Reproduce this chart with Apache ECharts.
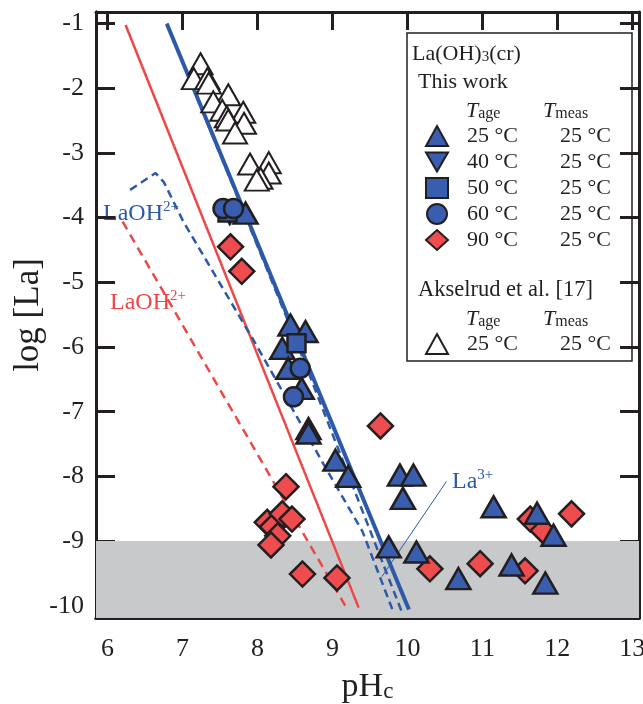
<!DOCTYPE html>
<html>
<head>
<meta charset="utf-8">
<script src="https://cdn.jsdelivr.net/npm/echarts@6/dist/echarts.min.js"></script>
<style>
  html, body { margin: 0; padding: 0; background: #fff; }
  #chart { width: 643px; height: 704px; }
</style>
</head>
<body>
<div id="chart"></div>
<script>
// tick labels
const xTicks = [6, 7, 8, 9, 10, 11, 12, 13];
const yTicks = [-10, -9, -8, -7, -6, -5, -4, -3, -2, -1];

// this work, [pH_c, log[La]]
const age25 = [
  [7.84, -3.93], [8.44, -5.66], [8.64, -5.76], [8.33, -6.02], [8.41, -6.33],
  [8.59, -6.64], [8.68, -7.26], [8.68, -7.33], [9.04, -7.75], [9.21, -8.0],
  [9.90, -7.98], [10.08, -7.98], [9.94, -8.34], [11.15, -8.47], [9.75, -9.09],
  [10.12, -9.17], [10.68, -9.58], [11.39, -9.37], [11.73, -8.57], [11.95, -8.91],
  [11.84, -9.65]
];
const age40 = [[7.63, -3.95]];
const age50 = [[7.60, -3.92], [8.52, -5.94]];
const age60 = [[7.54, -3.86], [7.68, -3.86], [8.57, -6.33], [8.48, -6.77]];
const age90 = [
  [7.64, -4.45], [7.79, -4.83], [8.38, -8.16], [8.13, -8.71], [8.20, -8.78],
  [8.33, -8.58], [8.46, -8.66], [8.27, -8.92], [8.18, -9.06], [8.60, -9.51],
  [9.06, -9.57], [9.64, -7.22], [10.30, -9.43], [10.97, -9.35], [11.57, -9.46],
  [11.64, -8.66], [11.81, -8.84], [12.19, -8.58]
];
// Akselrud et al. [17]
const akselrud = [
  [7.24, -1.62], [7.15, -1.85], [7.33, -1.85], [7.35, -1.92], [7.61, -2.10],
  [7.41, -2.21], [7.53, -2.34], [7.81, -2.37], [7.59, -2.44], [7.61, -2.49],
  [7.82, -2.54], [7.70, -2.69], [7.90, -3.17], [8.15, -3.15], [8.15, -3.31],
  [8.04, -3.39], [7.99, -3.42]
];

// model curves
const blueTotal = [[6.79, -1.0], [10.02, -10.06]];
const blueLa3 = [[6.79, -1.0], [8.50, -5.86], [9.92, -10.08]];
const blueLaOH = [[6.30, -3.57], [6.64, -3.31], [6.75, -3.45], [7.01, -4.06],
  [7.97, -5.94], [8.90, -7.85], [9.40, -8.85], [9.80, -10.06]];
const redTotal = [[6.24, -1.02], [9.35, -10.03]];
const redLaOH = [[6.20, -4.06], [9.19, -10.04]];
const la3Leader = [[10.52, -8.08], [9.66, -9.55]];

const legendRows = {
  '25/25': ['25 °C', '25 °C'],
  '40/25': ['40 °C', '25 °C'],
  '50/25': ['50 °C', '25 °C'],
  '60/25': ['60 °C', '25 °C'],
  '90/25': ['90 °C', '25 °C'],
  'Akselrud 25/25': ['25 °C', '25 °C']
};

const FONT = 'Liberation Serif';
const INK = '#231f20';
const BLUE = '#2d5aa8';
const BLUE_FILL = '#3a5eaf';
const RED = '#ef4648';
const RED_FILL = '#ef4c50';
const X_MIN = 5.845, X_MAX = 13.09, Y_MIN = -10.19, Y_MAX = -0.82;

const chart = echarts.init(document.getElementById('chart'));

const markerStyle = (fill) => ({ color: fill, borderColor: INK, borderWidth: 2.5, opacity: 1 });

function curve(name, data, color, width, dash, z) {
  return {
    name: name, type: 'line', data: data, symbol: 'none', silent: true, z: z || 2,
    lineStyle: { color: color, width: width, type: dash || 'solid' }
  };
}

const rowRich = {
  gap: { width: 14 },
  a: { width: 92, fontSize: 22, fontFamily: FONT, color: INK },
  b: { width: 52, align: 'right', fontSize: 22, fontFamily: FONT, color: INK }
};
const rowFormatter = (name) => {
  const r = legendRows[name];
  return '{gap|}{a|' + r[0] + '}{b|' + r[1] + '}';
};

function tLabel(x, y, sub) {
  return {
    type: 'text', left: x, top: y,
    style: {
      text: '{t|T}{s|' + sub + '}',
      rich: {
        t: { fontSize: 22, fontStyle: 'italic', fontFamily: FONT, fill: INK, lineHeight: 24, verticalAlign: 'bottom' },
        s: { fontSize: 16, fontFamily: FONT, fill: INK, lineHeight: 24, verticalAlign: 'bottom', padding: [9, 0, 0, 0] }
      }
    }
  };
}

function ionLabel(x, y, base, sup, color) {
  return {
    type: 'text', left: x, top: y,
    style: {
      text: '{m|' + base + '}{s|' + sup + '}',
      rich: {
        m: { fontSize: 24, fontFamily: FONT, fill: color, lineHeight: 26, verticalAlign: 'bottom' },
        s: { fontSize: 15, fontFamily: FONT, fill: color, lineHeight: 26, verticalAlign: 'top' }
      }
    }
  };
}

// an axis that only draws inside ticks (for the four frame sides)
function tickAxis(isX, position, ticks, len) {
  return {
    type: 'value', position: position,
    min: isX ? X_MIN : Y_MIN, max: isX ? X_MAX : Y_MAX,
    axisLine: { show: true, onZero: false, lineStyle: { color: INK, width: 3 } },
    splitLine: { show: false },
    axisTick: { show: true, inside: true, length: len, customValues: ticks, lineStyle: { color: INK, width: 3 } },
    axisLabel: { show: false }
  };
}

const option = {
  backgroundColor: '#fff',
  animation: false,
  grid: { left: 96, right: 4, top: 12, bottom: 86, containLabel: false, outerBoundsMode: 'none' },
  xAxis: [
    {
      type: 'value', min: X_MIN, max: X_MAX, position: 'bottom',
      axisLine: { show: true, onZero: false, lineStyle: { color: INK, width: 3 } },
      splitLine: { show: false },
      axisTick: { show: false },
      name: '{a|pH}{b|c}', nameLocation: 'middle', nameGap: 46,
      nameTextStyle: {
        rich: {
          a: { fontSize: 34, fontFamily: FONT, color: INK, lineHeight: 36, verticalAlign: 'bottom' },
          b: { fontSize: 23, fontFamily: FONT, color: INK, lineHeight: 36, verticalAlign: 'bottom', padding: [14, 0, 0, 0] }
        }
      },
      axisLabel: { show: true, customValues: xTicks, margin: 18, fontSize: 26, fontFamily: FONT, color: INK }
    },
    tickAxis(true, 'top', xTicks, 18),
    tickAxis(true, 'bottom', xTicks, 14)
  ],
  yAxis: [
    {
      type: 'value', min: Y_MIN, max: Y_MAX, position: 'left',
      axisLine: { show: true, onZero: false, lineStyle: { color: INK, width: 3 } },
      splitLine: { show: false },
      axisTick: { show: false },
      name: 'log [La]', nameLocation: 'middle', nameGap: 50, nameMoveOverlap: false,
      nameTextStyle: { fontSize: 35, fontFamily: FONT, color: INK },
      axisLabel: { show: true, customValues: yTicks, margin: 12, fontSize: 26, fontFamily: FONT, color: INK }
    },
    tickAxis(false, 'right', yTicks, 19),
    tickAxis(false, 'left', yTicks, 19)
  ],
  legend: [
    {
      data: [
        { name: '25/25' },
        { name: '40/25', icon: 'path://M0,0L22,0L11,19Z' },
        { name: '50/25' },
        { name: '60/25' },
        { name: '90/25' }
      ],
      orient: 'vertical', left: 425, top: 125, itemGap: 4,
      itemWidth: 22, itemHeight: 20, padding: 0,
      selectedMode: false, formatter: rowFormatter,
      textStyle: { rich: rowRich, lineHeight: 21 }
    },
    {
      data: ['Akselrud 25/25'],
      orient: 'vertical', left: 425, top: 333, itemGap: 4,
      itemWidth: 22, itemHeight: 20, padding: 0,
      selectedMode: false, formatter: rowFormatter,
      textStyle: { rich: rowRich, lineHeight: 21 }
    }
  ],
  graphic: [
    { type: 'rect', shape: { x: 407, y: 33, width: 225, height: 328 }, style: { fill: 'none', stroke: INK, lineWidth: 1.5 }, z: 10 },
    {
      type: 'text', left: 412, top: 40,
      style: {
        text: '{m|La(OH)}{s|3}{m|(cr)}',
        rich: {
          m: { fontSize: 22, fontFamily: FONT, fill: INK, lineHeight: 26, verticalAlign: 'bottom' },
          s: { fontSize: 15, fontFamily: FONT, fill: INK, lineHeight: 26, verticalAlign: 'bottom', padding: [10, 0, 0, 0] }
        }
      }
    },
    { type: 'text', left: 418, top: 71, style: { text: 'This work', fontSize: 22, fontFamily: FONT, fill: INK } },
    tLabel(466, 97, 'age'),
    tLabel(543, 97, 'meas'),
    { type: 'text', left: 418, top: 279, style: { text: 'Akselrud et al. [17]', fontSize: 22.5, fontFamily: FONT, fill: INK } },
    tLabel(466, 305, 'age'),
    tLabel(543, 305, 'meas'),
    ionLabel(103, 200, 'LaOH', '2+', BLUE),
    ionLabel(110, 289, 'LaOH', '2+', RED),
    ionLabel(452, 468, 'La', '3+', BLUE)
  ],
  series: [
    {
      name: 'band', type: 'line', data: [], silent: true, z: 0,
      markArea: {
        silent: true,
        itemStyle: { color: '#c8c9cb' },
        data: [[{ yAxis: -9 }, { yAxis: Y_MIN }]]
      }
    },
    curve('redLaOH', redLaOH, RED, 2.5, [9, 6]),
    curve('redTotal', redTotal, RED, 2.5),
    curve('blueLaOH', blueLaOH, BLUE, 2.5, [8, 5]),
    curve('blueLa3', blueLa3, BLUE, 2.5, [8, 5]),
    curve('blueTotal', blueTotal, BLUE, 4, 'solid', 3),
    curve('leader', la3Leader, BLUE, 1),
    {
      name: 'Akselrud 25/25', type: 'scatter', data: akselrud, z: 5,
      symbol: 'triangle', symbolSize: [24, 21],
      itemStyle: { color: '#fff', borderColor: INK, borderWidth: 2, opacity: 1 }
    },
    {
      name: '90/25', type: 'scatter', data: age90, z: 6,
      symbol: 'diamond', symbolSize: [25, 25], itemStyle: markerStyle(RED_FILL)
    },
    {
      name: '25/25', type: 'scatter', data: age25, z: 6,
      symbol: 'triangle', symbolSize: [24, 21], itemStyle: markerStyle(BLUE_FILL)
    },
    {
      name: '40/25', type: 'scatter', data: age40, z: 6,
      symbol: 'triangle', symbolRotate: 180, symbolSize: [22, 19], itemStyle: markerStyle(BLUE_FILL)
    },
    {
      name: '50/25', type: 'scatter', data: age50, z: 6,
      symbol: 'rect', symbolSize: [18, 18], itemStyle: markerStyle(BLUE_FILL)
    },
    {
      name: '60/25', type: 'scatter', data: age60, z: 6,
      symbol: 'circle', symbolSize: 19, itemStyle: markerStyle(BLUE_FILL)
    }
  ]
};

chart.setOption(option);
</script>
</body>
</html>
